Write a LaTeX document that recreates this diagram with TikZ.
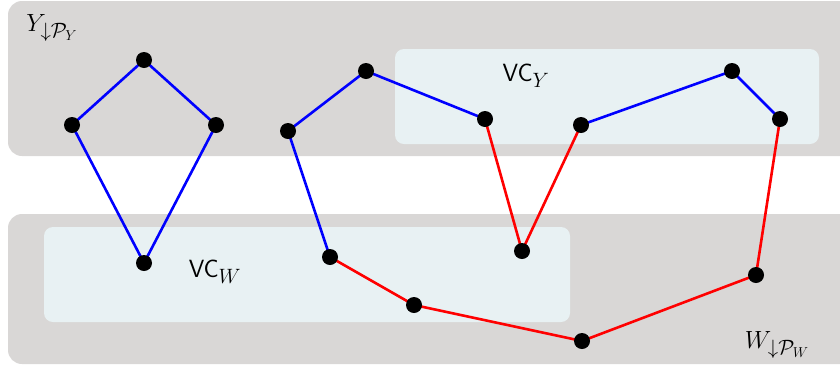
\documentclass[tikz,border=0pt]{standalone}
\usepackage{amsmath}
\definecolor{bggray}{RGB}{217,215,214}
\definecolor{vcfill}{RGB}{232,241,243}
\definecolor{eblue}{RGB}{0,0,255}
\definecolor{ered}{RGB}{255,0,0}
\begin{document}
\begin{tikzpicture}[x=1pt,y=-1pt,
  region/.style={fill=bggray,rounded corners=14pt},
  vcbox/.style={fill=vcfill,rounded corners=9pt},
  vtx/.style={circle,fill=black,inner sep=0pt,minimum size=16pt},
  bl/.style={draw=eblue,line width=2.6pt},
  rd/.style={draw=ered,line width=2.6pt},
  lbl/.style={font=\fontsize{27.5}{32}\selectfont,inner sep=0pt}]
\useasboundingbox (0,0) rectangle (840,365);
\fill[region] (8,1) rectangle (860,156);
\fill[region] (8,214) rectangle (860,364);
\fill[vcbox] (395,49) rectangle (819,144);
\fill[vcbox] (44,227) rectangle (570,322);
\node[lbl] (ly) at (52,28) {$Y_{\downarrow\mathcal{P}_Y}$};
\node[lbl] (lw) at (777,345) {$W_{\downarrow\mathcal{P}_W}$};
\node[lbl] (vcy) at (526,76) {$\mathsf{VC}_Y$};
\node[lbl] (vcw) at (215,272) {$\mathsf{VC}_W$};
% vertices
\coordinate (a1) at (144,60);
\coordinate (a2) at (72,125);
\coordinate (a3) at (216,125);
\coordinate (a4) at (144,263);
\coordinate (b1) at (288,131);
\coordinate (b2) at (366,71);
\coordinate (b3) at (485,119);
\coordinate (b4) at (522,251);
\coordinate (b5) at (581,125);
\coordinate (b6) at (732,71);
\coordinate (b7) at (780,119);
\coordinate (b8) at (756,275);
\coordinate (b9) at (582,341);
\coordinate (b10) at (414,305);
\coordinate (b11) at (330,257);
\draw[bl] (a2) -- (a1) -- (a3);
\draw[bl] (a2) -- (a4) -- (a3);
\draw[bl] (b11) -- (b1) -- (b2) -- (b3);
\draw[bl] (b5) -- (b6) -- (b7);
\draw[rd] (b3) -- (b4) -- (b5);
\draw[rd] (b7) -- (b8) -- (b9) -- (b10) -- (b11);
\foreach \v in {a1,a2,a3,a4,b1,b2,b3,b4,b5,b6,b7,b8,b9,b10,b11}
  \node[vtx] (n\v) at (\v) {};
\end{tikzpicture}
\end{document}
